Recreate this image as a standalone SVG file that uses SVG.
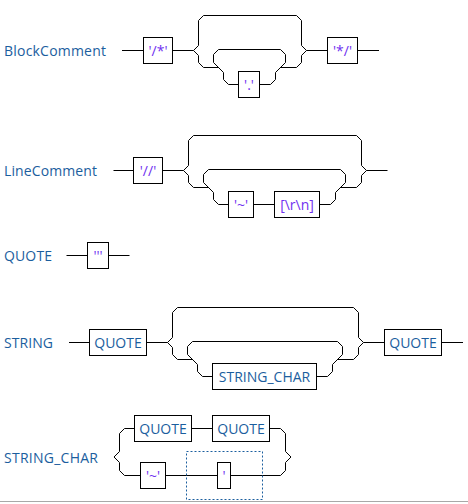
<svg xmlns="http://www.w3.org/2000/svg" width="468" height="504" viewBox="0 0 468 504">
<style>
.bg{fill:#ffffff}
.ln{fill:none;stroke:#000;stroke-width:1}
.bx{fill:#fff;stroke:#000;stroke-width:1}
.lbl{font-family:"Open Sans","Noto Sans",sans-serif;font-size:14px;fill:#1b5e9e}
.nt{font-family:"Open Sans","Noto Sans",sans-serif;font-size:14px;fill:#1b5e9e;text-anchor:middle}
.t{font-family:"Open Sans","Noto Sans",sans-serif;font-size:14px;fill:#7030f0;text-anchor:middle}
.grp{fill:none;stroke:#1b5e9e;stroke-width:1;stroke-dasharray:2 2}
</style>
<rect class="bg" x="0" y="0" width="468" height="504"/>
<g id="connectors">
<path class="ln" d="M122,50.5 H143.5 M172.5,50.5 H193.5 M193.5,50.5 L198.5,45.5 V20.5 L203.5,15.5 H296.5 L301.5,20.5 V45.5 L306.5,50.5 M193.5,50.5 L198.5,55.5 V62.5 L203.5,67.5 H218.5 M218.5,49.5 L213.5,54.5 V62.5 L223.5,72.5 V79.5 L228.5,84.5 H238.5 M259.5,84.5 H270.5 L275.5,79.5 V72.5 L285.5,62.5 V54.5 L280.5,49.5 H218.5 M280.5,67.5 H296.5 L301.5,62.5 V55.5 L306.5,50.5 H327.5 M357.5,50.5 H379"/>
<path class="ln" d="M113.5,170.5 H133.5 M162.5,170.5 H183.5 M183.5,170.5 L188.5,165.5 V140.5 L193.5,135.5 H356.5 L361.5,140.5 V165.5 L366.5,170.5 H387.5 M183.5,170.5 L188.5,175.5 V182.5 L193.5,187.5 H208.5 M208.5,169.5 L203.5,174.5 V182.5 L213.5,192.5 V199.5 L218.5,204.5 H228.5 M253.5,204.5 H274.5 M319.5,204.5 H330.5 L335.5,199.5 V192.5 L345.5,182.5 V174.5 L340.5,169.5 H208.5 M340.5,187.5 H356.5 L361.5,182.5 V175.5 L366.5,170.5"/>
<path class="ln" d="M66.5,255.5 H87.5 M108.5,255.5 H129.5"/>
<path class="ln" d="M69,342.5 H89.5 M146.5,342.5 H167.5 M167.5,342.5 L172.5,337.5 V312.5 L177.5,307.5 H353.5 L358.5,312.5 V337.5 L363.5,342.5 H384.5 M167.5,342.5 L172.5,347.5 V354.5 L177.5,359.5 H192.5 M192.5,341.5 L187.5,346.5 V354.5 L197.5,364.5 V371.5 L202.5,376.5 H212.5 M316.5,376.5 H327.5 L332.5,371.5 V364.5 L342.5,354.5 V346.5 L337.5,341.5 H192.5 M337.5,359.5 H353.5 L358.5,354.5 V347.5 L363.5,342.5 M441.5,342.5 H463"/>
<path class="ln" d="M114,457 L119.5,451.5 V433.5 L124.5,428.5 H134.5 M114,457 L119.5,462.5 V470.5 L124.5,475.5 H140.5 M191.5,428.5 H212.5 M269.5,428.5 H280.5 L285.5,433.5 V451.5 L291,457 M165.5,475.5 H217.5 M230.5,475.5 H280.5 L285.5,470.5 V462.5 L291,457"/>
</g>
<g id="BlockComment">
<text class="lbl" x="4" y="55.5" textLength="102">BlockComment</text>
<rect class="bx" x="143.5" y="37.5" width="29" height="26"/>
<text class="t" x="158" y="55.5">'/*'</text>
<rect class="bx" x="238.5" y="71.5" width="21" height="26"/>
<text class="t" x="249" y="89.5">'.'</text>
<rect class="bx" x="327.5" y="37.5" width="30" height="26"/>
<text class="t" x="342.5" y="55.5">'*/'</text>
</g>
<g id="LineComment">
<text class="lbl" x="4" y="175.5" textLength="93">LineComment</text>
<rect class="bx" x="133.5" y="157.5" width="29" height="26"/>
<text class="t" x="148" y="175.5">'//'</text>
<rect class="bx" x="228.5" y="191.5" width="25" height="26"/>
<text class="t" x="241" y="209.5">'~'</text>
<rect class="bx" x="274.5" y="191.5" width="45" height="26"/>
<text class="t" x="297" y="209.5">[\r\n]</text>
</g>
<g id="QUOTE">
<text class="lbl" x="4" y="261" textLength="48">QUOTE</text>
<rect class="bx" x="87.5" y="242.5" width="21" height="26"/>
<text class="t" x="98" y="260.5">'''</text>
</g>
<g id="STRING">
<text class="lbl" x="4" y="348" textLength="49">STRING</text>
<rect class="bx" x="89.5" y="329.5" width="57" height="26"/>
<text class="nt" x="118" y="347.5">QUOTE</text>
<rect class="bx" x="212.5" y="363.5" width="104" height="26"/>
<text class="nt" x="264.5" y="381.5">STRING_CHAR</text>
<rect class="bx" x="384.5" y="329.5" width="57" height="26"/>
<text class="nt" x="413" y="347.5">QUOTE</text>
</g>
<g id="STRING_CHAR">
<text class="lbl" x="4" y="463" textLength="94">STRING_CHAR</text>
<rect class="bx" x="134.5" y="415.5" width="57" height="26"/>
<text class="nt" x="163" y="433.5">QUOTE</text>
<rect class="bx" x="212.5" y="415.5" width="57" height="26"/>
<text class="nt" x="241" y="433.5">QUOTE</text>
<rect class="bx" x="140.5" y="462.5" width="25" height="26"/>
<text class="t" x="153" y="480.5">'~'</text>
<rect class="grp" x="186.5" y="451.5" width="76" height="48"/>
<rect class="bx" x="217.5" y="462.5" width="13" height="26"/>
<text class="t" x="224" y="480.5">'</text>
</g>
<line x1="0" y1="501.5" x2="468" y2="501.5" stroke="#a8a8a8" stroke-width="1"/>
</svg>
